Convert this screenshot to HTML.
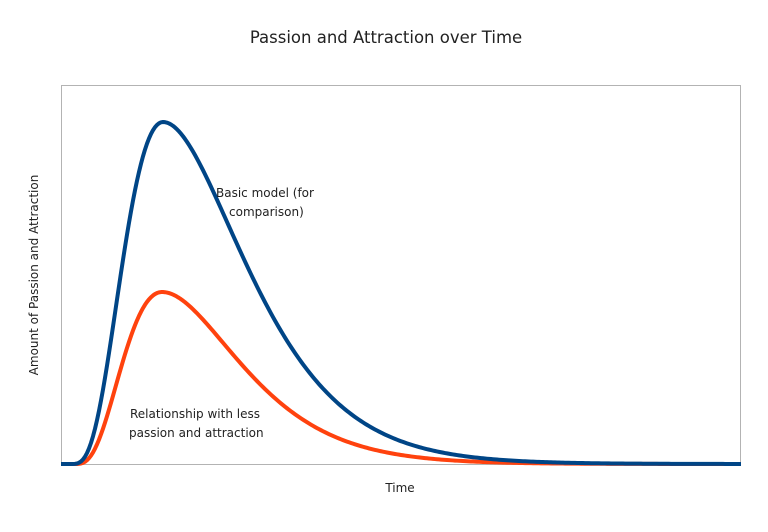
<!DOCTYPE html>
<html><head><meta charset="utf-8"><style>
html,body{margin:0;padding:0;background:#fff;}
svg{display:block;font-family:"DejaVu Sans","Liberation Sans",sans-serif;}
</style></head><body>
<svg id="s" width="768" height="532" viewBox="0 0 768 532">
<rect x="0" y="0" width="768" height="532" fill="#fff"/>
<text x="386" y="43" text-anchor="middle" font-size="16.5" fill="#222">Passion and Attraction over Time</text>
<rect x="61.5" y="85.5" width="679" height="379" fill="none" stroke="#b3b3b3" stroke-width="1"/>
<path id="o" fill="none" stroke="#ff420e" stroke-width="4" stroke-linejoin="round"/>
<path id="b" fill="none" stroke="#004586" stroke-width="4" stroke-linejoin="round"/>
<text x="216" y="197" font-size="12" fill="#222">Basic model (for</text>
<text x="229" y="216" font-size="12" fill="#222">comparison)</text>
<text x="130" y="418" font-size="12" fill="#222">Relationship with less</text>
<text x="129" y="437" font-size="12" fill="#222">passion and attraction</text>
<text x="400" y="492" text-anchor="middle" font-size="12" fill="#222">Time</text>
<text transform="translate(38,275) rotate(-90)" text-anchor="middle" font-size="12" fill="#222">Amount of Passion and Attraction</text>
</svg>
<script>
function mk(x0,pk,A,kr,kf){
  var d="M61,464";
  for(var x=61;x<=741;x+=2){
    var t=x-x0,v=0;
    if(t>0){var u=t/(pk-x0);var g=u*Math.exp(1-u);v=Math.pow(g,u<1?kr:kf);}
    d+=" L"+x+","+(464-A*v).toFixed(2);
  }
  return d;
}
document.getElementById('b').setAttribute('d',mk(70,163,342,3.9,2.1));
document.getElementById('o').setAttribute('d',mk(74,162,172,3.6,2.1));
</script>
</body></html>
